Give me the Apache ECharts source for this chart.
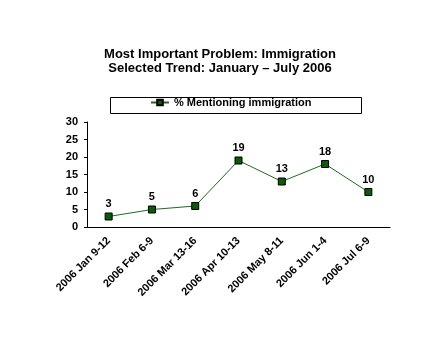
<!DOCTYPE html>
<html><head><meta charset="utf-8">
<script src="https://cdn.jsdelivr.net/npm/echarts@6/dist/echarts.min.js"></script>
<style>html,body{margin:0;padding:0;background:#fff}#c{width:440px;height:350px}</style>
</head><body><div id="c"></div>
<script>
const categories = ["2006 Jan 9-12","2006 Feb 6-9","2006 Mar 13-16","2006 Apr 10-13","2006 May 8-11","2006 Jun 1-4","2006 Jul 6-9"];
const values = [3,5,6,19,13,18,10];
const seriesName = "% Mentioning immigration";
const titleText = "Most Important Problem: Immigration\nSelected Trend: January \u2013 July 2006";

const chart = echarts.init(document.getElementById('c'), null, {renderer:'canvas'});
chart.setOption({
  backgroundColor:'#fff',
  animation:false,
  title:{text:titleText,left:'center',top:42,textStyle:{fontFamily:'Liberation Sans, Arial',fontSize:13,fontWeight:'bold',color:'#000',lineHeight:14}},
  graphic:[{type:'rect',left:108,top:95,shape:{width:251,height:16},style:{fill:'none',stroke:'#000',lineWidth:1},z:-1}],
  legend:{data:[seriesName],left:150,top:97,padding:0,itemGap:2,
    itemWidth:18,itemHeight:7,
    textStyle:{fontFamily:'Liberation Sans, Arial',fontSize:11,fontWeight:'bold',color:'#000'}},
  grid:{left:87,right:50,top:122,bottom:123,containLabel:false},
  xAxis:{type:'category',data:categories,boundaryGap:true,
    axisLine:{lineStyle:{color:'#000',width:1}},axisTick:{show:false},
    axisLabel:{rotate:45,interval:0,fontFamily:'Liberation Sans, Arial',fontSize:11,fontWeight:'bold',color:'#000',margin:12}},
  yAxis:{type:'value',min:0,max:30,interval:5,
    axisLine:{show:true,lineStyle:{color:'#000'}},axisTick:{show:true,length:3,lineStyle:{color:'#000'}},
    splitLine:{show:false},
    axisLabel:{fontFamily:'Liberation Sans, Arial',fontSize:11,fontWeight:'bold',color:'#000',margin:9}},
  series:[{name:seriesName,type:'line',data:values,symbol:'rect',symbolSize:7,
    lineStyle:{color:'#1e6b1e',width:1},
    itemStyle:{color:'#0a5a0a',borderColor:'#000',borderWidth:1},
    label:{show:true,position:'top',distance:3,fontFamily:'Liberation Sans, Arial',fontSize:11,fontWeight:'bold',color:'#000'}}]
});
</script></body></html>
